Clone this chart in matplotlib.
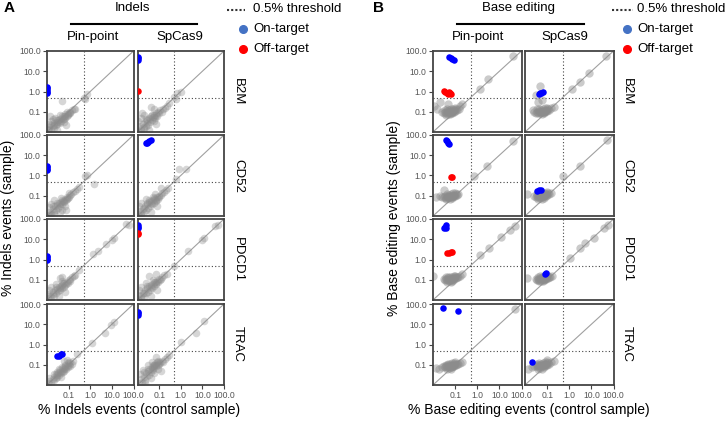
import matplotlib
matplotlib.use("Agg")
import matplotlib.pyplot as plt
from matplotlib.ticker import FixedLocator, FixedFormatter, NullLocator

plt.rcParams['font.family'] = ['Liberation Sans', 'DejaVu Sans']

# ---- data: (control %, sample %) pairs ----
genes = ['B2M', 'CD52', 'PDCD1', 'TRAC']
columns = ['Pin-point', 'SpCas9']
tick_vals = [0.1, 1, 10, 100]
tick_text = ['0.1', '1.0', '10.0', '100.0']
threshold = 0.5

# Indels, Pin-point
ind_pin_b2m = [(0.011, 0.012), (0.013, 0.018), (0.015, 0.013), (0.012, 0.025), (0.018, 0.02), (0.02, 0.015),
               (0.022, 0.028), (0.025, 0.022), (0.016, 0.035), (0.028, 0.032), (0.03, 0.025), (0.033, 0.04),
               (0.035, 0.03), (0.04, 0.045), (0.045, 0.035), (0.05, 0.05), (0.055, 0.042), (0.06, 0.06),
               (0.065, 0.05), (0.07, 0.075), (0.08, 0.065), (0.09, 0.08), (0.1, 0.09), (0.11, 0.1), (0.12, 0.085),
               (0.14, 0.12), (0.17, 0.13), (0.2, 0.14), (0.024, 0.05), (0.04, 0.07), (0.075, 0.022), (0.014, 0.06),
               (0.048, 0.33), (0.5, 0.5), (0.7, 0.75), (0.55, 0.45), (0.03, 0.012), (0.06, 0.03), (0.085, 0.1),
               (0.018, 0.045), (0.027, 0.04), (0.038, 0.028), (0.047, 0.06), (0.058, 0.045), (0.07, 0.06),
               (0.095, 0.07), (0.013, 0.014), (0.021, 0.021), (0.016, 0.022)]
ind_pin_b2m_on = [(0.01, 0.85), (0.01, 1.0), (0.01, 1.2), (0.01, 1.45), (0.01, 1.6)]
ind_pin_b2m_off = []

ind_pin_cd52 = [(0.011, 0.011), (0.013, 0.016), (0.016, 0.012), (0.012, 0.028), (0.018, 0.022), (0.021, 0.017),
                (0.024, 0.03), (0.026, 0.02), (0.015, 0.04), (0.03, 0.035), (0.032, 0.026), (0.036, 0.045),
                (0.04, 0.032), (0.045, 0.05), (0.05, 0.04), (0.055, 0.058), (0.06, 0.047), (0.068, 0.07),
                (0.075, 0.06), (0.085, 0.085), (0.095, 0.075), (0.11, 0.11), (0.13, 0.12), (0.16, 0.15),
                (0.2, 0.17), (0.25, 0.22), (0.3, 0.28), (0.022, 0.06), (0.045, 0.08), (0.075, 0.02), (0.02, 0.012),
                (0.065, 0.03), (0.1, 0.13), (0.6, 0.9), (0.7, 1.0), (1.5, 0.38), (0.05, 0.02), (0.04, 0.015),
                (0.028, 0.045), (0.042, 0.04), (0.052, 0.065), (0.064, 0.055), (0.08, 0.07), (0.1, 0.09),
                (0.014, 0.013), (0.019, 0.03)]
ind_pin_cd52_on = [(0.01, 1.8), (0.01, 2.1), (0.01, 2.5), (0.01, 2.8)]
ind_pin_cd52_off = []

ind_pin_pdcd1 = [(0.011, 0.012), (0.013, 0.02), (0.015, 0.014), (0.012, 0.03), (0.018, 0.024), (0.02, 0.016),
                 (0.023, 0.03), (0.026, 0.021), (0.016, 0.042), (0.029, 0.036), (0.032, 0.027), (0.035, 0.045),
                 (0.038, 0.033), (0.043, 0.05), (0.047, 0.04), (0.052, 0.056), (0.058, 0.046), (0.064, 0.068),
                 (0.07, 0.057), (0.08, 0.08), (0.09, 0.072), (0.1, 0.1), (0.12, 0.11), (0.14, 0.13), (0.17, 0.15),
                 (0.2, 0.18), (0.025, 0.065), (0.05, 0.085), (0.07, 0.025), (0.035, 0.015), (0.04, 0.12),
                 (0.05, 0.13), (0.3, 0.3), (1.4, 1.8), (2.3, 2.7), (5.3, 5.7), (10, 9), (12.5, 11), (45, 54),
                 (60, 48), (0.027, 0.045), (0.04, 0.04), (0.055, 0.07), (0.075, 0.065), (0.11, 0.09),
                 (0.014, 0.015), (0.019, 0.019)]
ind_pin_pdcd1_on = [(0.01, 0.9), (0.01, 1.1), (0.01, 1.3), (0.01, 1.5)]
ind_pin_pdcd1_off = []

ind_pin_trac = [(0.011, 0.012), (0.013, 0.016), (0.015, 0.013), (0.013, 0.022), (0.018, 0.02), (0.02, 0.017),
                (0.022, 0.026), (0.025, 0.023), (0.028, 0.032), (0.03, 0.026), (0.033, 0.038), (0.036, 0.031),
                (0.04, 0.045), (0.044, 0.038), (0.048, 0.052), (0.053, 0.045), (0.058, 0.06), (0.063, 0.052),
                (0.07, 0.07), (0.075, 0.062), (0.08, 0.085), (0.09, 0.078), (0.1, 0.1), (0.11, 0.09),
                (0.12, 0.12), (0.14, 0.11), (0.06, 0.15), (0.08, 0.18), (0.035, 0.06), (0.05, 0.08), (0.065, 0.1),
                (0.045, 0.025), (0.02, 0.035), (0.24, 0.33), (1.2, 1.15), (4.9, 3.9), (9.5, 9), (12.7, 12.5),
                (0.03, 0.045), (0.042, 0.055), (0.055, 0.07), (0.07, 0.09), (0.09, 0.12), (0.1, 0.14),
                (0.16, 0.15), (0.025, 0.035)]
ind_pin_trac_on = [(0.03, 0.26), (0.035, 0.28), (0.045, 0.33), (0.05, 0.35)]
ind_pin_trac_off = []

# Indels, SpCas9
ind_sp_b2m = [(0.011, 0.011), (0.012, 0.02), (0.015, 0.012), (0.011, 0.035), (0.018, 0.025), (0.02, 0.014),
              (0.022, 0.032), (0.025, 0.02), (0.014, 0.05), (0.028, 0.04), (0.03, 0.022), (0.033, 0.05),
              (0.036, 0.03), (0.04, 0.06), (0.045, 0.04), (0.05, 0.055), (0.055, 0.035), (0.06, 0.07),
              (0.065, 0.05), (0.07, 0.085), (0.08, 0.065), (0.09, 0.1), (0.1, 0.085), (0.11, 0.12), (0.13, 0.1),
              (0.15, 0.14), (0.18, 0.16), (0.22, 0.2), (0.3, 0.28), (0.02, 0.07), (0.041, 0.17), (0.06, 0.13),
              (0.035, 0.012), (0.07, 0.025), (0.5, 0.55), (0.7, 0.8), (1.0, 0.9), (0.6, 0.45), (0.017, 0.09),
              (0.025, 0.045), (0.038, 0.045), (0.048, 0.07), (0.058, 0.055), (0.075, 0.07), (0.014, 0.016),
              (0.019, 0.018), (0.028, 0.028)]
ind_sp_b2m_on = [(0.01, 38), (0.01, 45), (0.01, 52)]
ind_sp_b2m_off = [(0.01, 1.1)]

ind_sp_cd52 = [(0.011, 0.012), (0.013, 0.018), (0.015, 0.011), (0.012, 0.03), (0.018, 0.022), (0.02, 0.015),
               (0.023, 0.03), (0.026, 0.02), (0.015, 0.045), (0.029, 0.038), (0.032, 0.025), (0.035, 0.048),
               (0.038, 0.032), (0.043, 0.055), (0.047, 0.04), (0.052, 0.06), (0.058, 0.045), (0.064, 0.072),
               (0.07, 0.058), (0.08, 0.085), (0.09, 0.07), (0.1, 0.1), (0.12, 0.11), (0.14, 0.13), (0.17, 0.16),
               (0.2, 0.19), (0.25, 0.23), (0.12, 0.25), (0.025, 0.07), (0.05, 0.09), (0.08, 0.03), (0.04, 0.015),
               (0.8, 2.2), (1.7, 2.2), (0.6, 0.65), (0.065, 0.12), (0.027, 0.045), (0.04, 0.042),
               (0.055, 0.075), (0.07, 0.065), (0.1, 0.085), (0.014, 0.014), (0.02, 0.025), (0.033, 0.06)]
ind_sp_cd52_on = [(0.025, 40), (0.028, 42), (0.03, 45), (0.035, 50), (0.04, 55)]
ind_sp_cd52_off = []

ind_sp_pdcd1 = [(0.011, 0.011), (0.012, 0.018), (0.015, 0.012), (0.012, 0.03), (0.018, 0.023), (0.02, 0.014),
                (0.023, 0.032), (0.026, 0.021), (0.015, 0.045), (0.029, 0.04), (0.032, 0.025), (0.035, 0.05),
                (0.038, 0.033), (0.043, 0.058), (0.047, 0.04), (0.052, 0.062), (0.058, 0.047), (0.064, 0.075),
                (0.07, 0.06), (0.08, 0.09), (0.09, 0.075), (0.1, 0.11), (0.12, 0.11), (0.14, 0.14), (0.17, 0.17),
                (0.22, 0.2), (0.07, 0.2), (0.034, 0.15), (0.025, 0.07), (0.05, 0.1), (0.08, 0.03), (0.04, 0.016),
                (0.5, 0.5), (2.2, 2.5), (10, 9.6), (12, 11), (55, 50), (40, 45), (0.027, 0.05), (0.04, 0.045),
                (0.055, 0.08), (0.075, 0.07), (0.11, 0.095), (0.014, 0.015), (0.02, 0.022)]
ind_sp_pdcd1_on = [(0.01, 35), (0.01, 42), (0.01, 48)]
ind_sp_pdcd1_off = [(0.01, 18), (0.01, 20)]

ind_sp_trac = [(0.012, 0.012), (0.014, 0.02), (0.017, 0.014), (0.013, 0.035), (0.02, 0.026), (0.023, 0.018),
               (0.025, 0.04), (0.028, 0.028), (0.018, 0.055), (0.032, 0.05), (0.035, 0.032), (0.038, 0.065),
               (0.042, 0.045), (0.047, 0.08), (0.05, 0.055), (0.055, 0.095), (0.06, 0.07), (0.065, 0.11),
               (0.07, 0.085), (0.08, 0.13), (0.09, 0.1), (0.1, 0.14), (0.11, 0.12), (0.13, 0.16), (0.15, 0.14),
               (0.18, 0.2), (0.22, 0.24), (0.07, 0.24), (0.03, 0.1), (0.045, 0.13), (0.06, 0.04), (0.09, 0.06),
               (0.04, 0.022), (0.022, 0.012), (0.3, 0.32), (1.0, 1.4), (4.9, 3.7), (12, 14), (0.12, 0.05),
               (0.03, 0.06), (0.045, 0.06), (0.06, 0.09), (0.075, 0.1), (0.1, 0.11), (0.05, 0.1),
               (0.02, 0.045), (0.085, 0.16)]
ind_sp_trac_on = [(0.01, 30), (0.01, 36), (0.01, 42)]
ind_sp_trac_off = []

# Base editing, Pin-point
be_pin_b2m = [(0.03, 0.09), (0.035, 0.1), (0.04, 0.085), (0.045, 0.11), (0.05, 0.095), (0.055, 0.1), (0.06, 0.09),
              (0.065, 0.105), (0.07, 0.1), (0.075, 0.095), (0.08, 0.11), (0.085, 0.1), (0.09, 0.12), (0.1, 0.11),
              (0.11, 0.13), (0.12, 0.12), (0.05, 0.08), (0.06, 0.075), (0.07, 0.085), (0.045, 0.13),
              (0.055, 0.12), (0.065, 0.13), (0.08, 0.14), (0.1, 0.15), (0.025, 0.1), (0.035, 0.12), (0.15, 0.14),
              (0.04, 0.07), (0.011, 0.2), (0.015, 0.13), (0.02, 0.3), (0.2, 0.25), (0.17, 0.2), (0.05, 0.25),
              (1.3, 1.35), (3.2, 4.1), (42, 54)]
be_pin_b2m_on = [(0.055, 48), (0.065, 44), (0.075, 40), (0.085, 36)]
be_pin_b2m_off = [(0.03, 1.05), (0.035, 1.0), (0.045, 0.85), (0.055, 0.95), (0.06, 0.8), (0.065, 0.75),
                  (0.05, 0.78)]

be_pin_cd52 = [(0.03, 0.085), (0.035, 0.095), (0.04, 0.08), (0.045, 0.1), (0.05, 0.09), (0.055, 0.095),
               (0.06, 0.085), (0.065, 0.1), (0.07, 0.095), (0.075, 0.09), (0.08, 0.1), (0.085, 0.095),
               (0.09, 0.11), (0.1, 0.1), (0.11, 0.12), (0.12, 0.11), (0.05, 0.075), (0.06, 0.07), (0.07, 0.08),
               (0.045, 0.12), (0.055, 0.11), (0.065, 0.12), (0.08, 0.13), (0.1, 0.135), (0.025, 0.09),
               (0.02, 0.1), (0.14, 0.125), (0.04, 0.068), (0.03, 0.2), (0.013, 0.09), (0.7, 0.95), (2.7, 2.9),
               (42, 52)]
be_pin_cd52_on = [(0.038, 55), (0.045, 48), (0.05, 42), (0.055, 38)]
be_pin_cd52_off = [(0.065, 0.8), (0.07, 0.82)]

be_pin_pdcd1 = [(0.035, 0.1), (0.04, 0.11), (0.045, 0.095), (0.05, 0.12), (0.055, 0.1), (0.06, 0.11),
                (0.065, 0.1), (0.07, 0.115), (0.075, 0.11), (0.08, 0.1), (0.085, 0.12), (0.09, 0.11),
                (0.1, 0.13), (0.11, 0.12), (0.12, 0.14), (0.13, 0.13), (0.055, 0.085), (0.065, 0.08),
                (0.075, 0.09), (0.05, 0.14), (0.06, 0.13), (0.07, 0.14), (0.085, 0.15), (0.1, 0.16),
                (0.03, 0.11), (0.04, 0.13), (0.16, 0.15), (0.045, 0.08), (0.2, 0.19), (0.01, 0.16), (1.35, 1.6),
                (3.4, 3.5), (11.6, 13), (30, 30), (50, 45)]
be_pin_pdcd1_on = [(0.032, 35), (0.035, 42), (0.038, 48), (0.04, 38)]
be_pin_pdcd1_off = [(0.045, 2.1), (0.055, 2.2), (0.065, 2.3), (0.075, 2.3)]

be_pin_trac = [(0.035, 0.08), (0.04, 0.09), (0.045, 0.075), (0.05, 0.095), (0.055, 0.085), (0.06, 0.09),
               (0.065, 0.08), (0.07, 0.095), (0.075, 0.09), (0.08, 0.085), (0.085, 0.1), (0.09, 0.09),
               (0.1, 0.105), (0.11, 0.1), (0.12, 0.115), (0.14, 0.11), (0.055, 0.07), (0.065, 0.065),
               (0.075, 0.075), (0.05, 0.11), (0.06, 0.11), (0.07, 0.12), (0.085, 0.12), (0.1, 0.13),
               (0.03, 0.09), (0.04, 0.1), (0.17, 0.12), (0.045, 0.065), (0.2, 0.14), (0.013, 0.07),
               (0.018, 0.06), (0.025, 0.075), (50, 55)]
be_pin_trac_on = [(0.028, 60), (0.13, 45)]
be_pin_trac_off = []

# Base editing, SpCas9
be_sp_b2m = [(0.03, 0.09), (0.035, 0.1), (0.04, 0.09), (0.045, 0.11), (0.05, 0.1), (0.055, 0.1), (0.06, 0.095),
             (0.065, 0.11), (0.07, 0.1), (0.075, 0.1), (0.08, 0.115), (0.085, 0.105), (0.09, 0.12), (0.1, 0.115),
             (0.11, 0.13), (0.12, 0.125), (0.05, 0.085), (0.06, 0.08), (0.07, 0.09), (0.045, 0.13),
             (0.055, 0.125), (0.065, 0.14), (0.08, 0.145), (0.1, 0.15), (0.025, 0.1), (0.035, 0.13),
             (0.15, 0.15), (0.2, 0.17), (0.023, 0.12), (0.05, 1.9), (0.03, 0.7), (0.04, 0.3), (0.06, 0.4),
             (1.35, 1.38), (3.2, 3.0), (7.7, 8), (48, 54)]
be_sp_b2m_on = [(0.045, 0.75), (0.05, 0.8), (0.055, 0.85), (0.065, 0.95)]
be_sp_b2m_off = []

be_sp_cd52 = [(0.03, 0.09), (0.035, 0.1), (0.04, 0.085), (0.045, 0.11), (0.05, 0.095), (0.055, 0.1),
              (0.06, 0.09), (0.065, 0.105), (0.07, 0.1), (0.075, 0.095), (0.08, 0.11), (0.085, 0.1),
              (0.09, 0.12), (0.1, 0.11), (0.11, 0.13), (0.12, 0.12), (0.05, 0.075), (0.06, 0.07), (0.07, 0.08),
              (0.045, 0.13), (0.055, 0.12), (0.065, 0.14), (0.08, 0.14), (0.1, 0.15), (0.025, 0.1),
              (0.035, 0.12), (0.15, 0.14), (0.04, 0.07), (0.012, 0.12), (0.5, 0.9), (3.0, 3.0), (50, 55)]
be_sp_cd52_on = [(0.035, 0.17), (0.045, 0.19), (0.055, 0.2)]
be_sp_cd52_off = []

be_sp_pdcd1 = [(0.035, 0.1), (0.04, 0.115), (0.045, 0.1), (0.05, 0.125), (0.055, 0.11), (0.06, 0.12),
               (0.065, 0.105), (0.07, 0.12), (0.075, 0.11), (0.08, 0.105), (0.085, 0.125), (0.09, 0.115),
               (0.1, 0.13), (0.11, 0.12), (0.12, 0.14), (0.13, 0.13), (0.055, 0.09), (0.065, 0.085),
               (0.075, 0.095), (0.05, 0.15), (0.06, 0.14), (0.07, 0.16), (0.085, 0.16), (0.1, 0.17),
               (0.03, 0.11), (0.04, 0.14), (0.16, 0.15), (0.045, 0.085), (0.012, 0.12), (1.1, 1.2), (3.2, 3.5),
               (5, 6.2), (13, 12), (37, 36), (55, 50)]
be_sp_pdcd1_on = [(0.08, 0.2), (0.085, 0.21)]
be_sp_pdcd1_off = []

be_sp_trac = [(0.03, 0.085), (0.035, 0.095), (0.04, 0.08), (0.045, 0.1), (0.05, 0.09), (0.055, 0.095),
              (0.06, 0.085), (0.065, 0.1), (0.07, 0.095), (0.075, 0.09), (0.08, 0.105), (0.085, 0.095),
              (0.09, 0.11), (0.1, 0.1), (0.11, 0.12), (0.12, 0.11), (0.05, 0.07), (0.06, 0.065), (0.07, 0.075),
              (0.045, 0.12), (0.055, 0.115), (0.065, 0.125), (0.08, 0.13), (0.1, 0.135), (0.025, 0.09),
              (0.035, 0.11), (0.15, 0.13), (0.2, 0.15), (0.04, 0.06), (0.014, 0.06), (0.1, 0.18), (0.02, 0.08)]
be_sp_trac_on = [(0.02, 0.13)]
be_sp_trac_off = []

indel_panels = [
    [(ind_pin_b2m, ind_pin_b2m_on, ind_pin_b2m_off), (ind_sp_b2m, ind_sp_b2m_on, ind_sp_b2m_off)],
    [(ind_pin_cd52, ind_pin_cd52_on, ind_pin_cd52_off), (ind_sp_cd52, ind_sp_cd52_on, ind_sp_cd52_off)],
    [(ind_pin_pdcd1, ind_pin_pdcd1_on, ind_pin_pdcd1_off), (ind_sp_pdcd1, ind_sp_pdcd1_on, ind_sp_pdcd1_off)],
    [(ind_pin_trac, ind_pin_trac_on, ind_pin_trac_off), (ind_sp_trac, ind_sp_trac_on, ind_sp_trac_off)],
]
be_panels = [
    [(be_pin_b2m, be_pin_b2m_on, be_pin_b2m_off), (be_sp_b2m, be_sp_b2m_on, be_sp_b2m_off)],
    [(be_pin_cd52, be_pin_cd52_on, be_pin_cd52_off), (be_sp_cd52, be_sp_cd52_on, be_sp_cd52_off)],
    [(be_pin_pdcd1, be_pin_pdcd1_on, be_pin_pdcd1_off), (be_sp_pdcd1, be_sp_pdcd1_on, be_sp_pdcd1_off)],
    [(be_pin_trac, be_pin_trac_on, be_pin_trac_off), (be_sp_trac, be_sp_trac_on, be_sp_trac_off)],
]

W, H = 728, 422
fig = plt.figure(figsize=(W / 100, H / 100), dpi=100)


def px_axes(left, top, width, height):
    return fig.add_axes([left / W, 1 - (top + height) / H, width / W, height / H])


def ftext(x, y, s, **kw):
    fig.text(x / W, 1 - y / H, s, **kw)


def draw_panel(ax, grey, on, off, first_col, last_row, dot, alpha):
    ax.set_xscale('log')
    ax.set_yscale('log')
    ax.plot([0.01, 100], [0.01, 100], color='#a0a0a0', lw=0.8, zorder=1)
    ax.axhline(threshold, color='#444444', lw=0.8, ls=(0, (1, 2)), zorder=1)
    ax.axvline(threshold, color='#444444', lw=0.8, ls=(0, (1, 2)), zorder=1)
    gx = [p[0] for p in grey]
    gy = [p[1] for p in grey]
    ax.scatter(gx, gy, s=dot, color='#8c8c8c', alpha=alpha, lw=0, zorder=2)
    if on:
        ax.scatter([p[0] for p in on], [p[1] for p in on], s=22, color='#0000ff', lw=0, zorder=3)
    if off:
        ax.scatter([p[0] for p in off], [p[1] for p in off], s=22, color='#ff0000', lw=0, zorder=3)
    ax.set_xlim(0.01, 100)
    ax.set_ylim(0.01, 100)
    for sp in ax.spines.values():
        sp.set_color('#444444')
        sp.set_linewidth(1.3)
    for axis in (ax.xaxis, ax.yaxis):
        axis.set_major_locator(FixedLocator(tick_vals))
        axis.set_major_formatter(FixedFormatter(tick_text))
        axis.set_minor_locator(NullLocator())
    ax.tick_params(axis='both', length=3, width=0.8, color='#444444', labelsize=6.2,
                   labelcolor='#555555', pad=1.5)
    ax.tick_params(axis='y', left=first_col, labelleft=first_col)
    ax.tick_params(axis='x', bottom=last_row, labelbottom=last_row)


row_tops = [51, 135, 219, 304]
row_h = 81


def draw_block(panels, col_lefts, col_w, dot, alpha, letter, letter_x, title, title_x, line_x0, line_x1,
               col_centers, gene_x, ylab, ylab_x, xlab, xlab_x, leg_line, leg_dot, leg_text_x):
    for r in range(4):
        for c in range(2):
            ax = px_axes(col_lefts[c], row_tops[r], col_w, row_h)
            grey, on, off = panels[r][c]
            draw_panel(ax, grey, on, off, c == 0, r == 3, dot, alpha)
        ftext(gene_x, row_tops[r] + row_h / 2, genes[r], rotation=-90, fontsize=9.5,
              ha='center', va='center')
    ftext(letter_x, 8.5, letter, fontsize=11, fontweight='bold', ha='left', va='center')
    ftext(title_x, 8, title, fontsize=9.5, ha='center', va='center')
    fig.add_artist(plt.Line2D([line_x0 / W, line_x1 / W], [1 - 23.5 / H, 1 - 23.5 / H],
                              color='black', lw=1.5))
    for c in range(2):
        ftext(col_centers[c], 37, columns[c], fontsize=9.5, ha='center', va='center')
    ftext(ylab_x, 218, ylab, rotation=90, fontsize=10, ha='center', va='center')
    ftext(xlab_x, 410, xlab, fontsize=10, ha='center', va='center')
    # legend
    fig.add_artist(plt.Line2D([leg_line[0] / W, leg_line[1] / W], [1 - 9.5 / H, 1 - 9.5 / H],
                              color='#333333', lw=1.5, ls=(0, (1, 1))))
    ftext(leg_text_x, 9.5, '0.5% threshold', fontsize=9.5, ha='left', va='center')
    fig.add_artist(plt.Line2D([leg_dot / W], [1 - 29 / H], marker='o', ms=5.5, color='#4472c4', lw=0))
    ftext(leg_text_x, 29, 'On-target', fontsize=9.5, ha='left', va='center')
    fig.add_artist(plt.Line2D([leg_dot / W], [1 - 49 / H], marker='o', ms=5.5, color='#ff0000', lw=0))
    ftext(leg_text_x, 49, 'Off-target', fontsize=9.5, ha='left', va='center')


draw_block(indel_panels, [47, 137.5], 86.5, 30, 0.35, 'A', 4, 'Indels', 132, 71, 197, [93, 180], 238,
           '% Indels events (sample)', 8.5, '% Indels events (control sample)', 139,
           (227, 245), 243, 253)
draw_block(be_panels, [433, 525], 88.5, 36, 0.45, 'B', 373, 'Base editing', 519, 457, 584, [478, 565], 627,
           '% Base editing events (sample)', 394, '% Base editing events (control sample)', 529,
           (612, 633), 627, 637)

fig.savefig('out.png', dpi=100, facecolor='white')
